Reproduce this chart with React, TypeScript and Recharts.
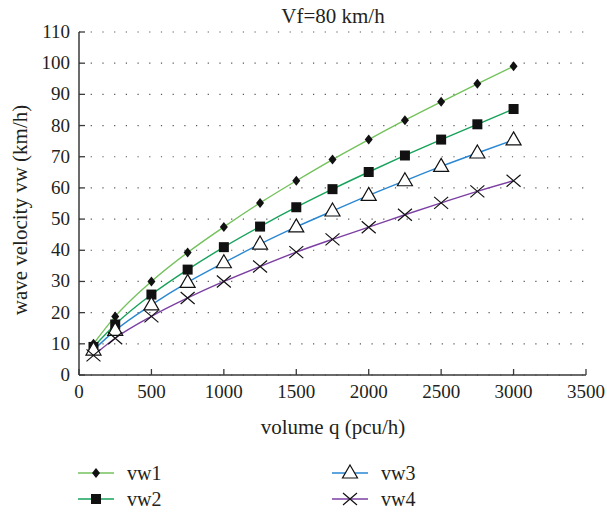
import { LineChart, Line, XAxis, YAxis, CartesianGrid } from 'recharts';

// volume q (pcu/h)
const volume = [100, 250, 500, 750, 1000, 1250, 1500, 1750, 2000, 2250, 2500, 2750, 3000];
// wave velocity vw (km/h)
const vw1 = [10, 18.8, 30, 39.3, 47.5, 55.2, 62.3, 69.1, 75.5, 81.7, 87.6, 93.4, 99];
const vw2 = [9, 16.2, 25.8, 33.8, 41, 47.6, 53.8, 59.6, 65.1, 70.4, 75.5, 80.4, 85.3];
const vw3 = [8, 14.3, 22.5, 29.7, 36, 42, 47.5, 52.6, 57.6, 62.3, 66.9, 71.2, 75.4];
const vw4 = [6.3, 11.8, 18.8, 24.7, 30, 34.8, 39.4, 43.5, 47.4, 51.4, 55.2, 58.9, 62.3];

const xTicks = [0, 500, 1000, 1500, 2000, 2500, 3000, 3500];
const yTicks = [0, 10, 20, 30, 40, 50, 60, 70, 80, 90, 100, 110];

const data = volume.map((q, i) => ({ q, vw1: vw1[i], vw2: vw2[i], vw3: vw3[i], vw4: vw4[i] }));

const FONT = '"Liberation Serif", serif';
const TEXT = '#231f20';
const AXIS = '#3a3a3a';
const M = 9;

const colors = { vw1: '#74c25c', vw2: '#17a25a', vw3: '#2a87d2', vw4: '#7c3fa3' };

const diamond = (cx: number, cy: number, r = 5) =>
  `M${cx},${cy - r}L${cx + r * 0.8},${cy}L${cx},${cy + r}L${cx - r * 0.8},${cy}Z`;

const Diamond = (p: any) => <path key={p.key ?? p.index} d={diamond(p.cx, p.cy)} fill="#111" />;
const Square = (p: any) => (
  <rect key={p.key ?? p.index} x={p.cx - 5} y={p.cy - 5} width={10} height={10} fill="#111" />
);
const Triangle = (p: any) => (
  <path
    key={p.key ?? p.index}
    d={`M${p.cx},${p.cy - 8}L${p.cx + 7.5},${p.cy + 5}L${p.cx - 7.5},${p.cy + 5}Z`}
    fill="#fff"
    stroke="#111"
    strokeWidth={1.2}
  />
);
const Cross = (p: any) => (
  <path
    key={p.key ?? p.index}
    d={`M${p.cx - 7},${p.cy - 6}L${p.cx + 7},${p.cy + 6}M${p.cx - 7},${p.cy + 6}L${p.cx + 7},${p.cy - 6}`}
    stroke="#111"
    strokeWidth={1.2}
    fill="none"
  />
);

const XTick = ({ x, y, payload }: any) => (
  <g>
    <line x1={x} x2={x} y1={y - M} y2={y - M - 6} stroke={AXIS} strokeWidth={1.3} />
    <text x={x} y={y + 14} textAnchor="middle" fontFamily={FONT} fontSize={19} fill={TEXT}>
      {payload.value}
    </text>
  </g>
);

const YTick = ({ x, y, payload }: any) => (
  <g>
    <line x1={x + M} x2={x + M + 6} y1={y} y2={y} stroke={AXIS} strokeWidth={1.3} />
    <text x={x} y={y + 6} textAnchor="end" fontFamily={FONT} fontSize={19} fill={TEXT}>
      {payload.value}
    </text>
  </g>
);

const legendItems = [
  { name: 'vw1', color: colors.vw1, Mark: Diamond, left: 78, top: 473 },
  { name: 'vw2', color: colors.vw2, Mark: Square, left: 78, top: 499 },
  { name: 'vw3', color: colors.vw3, Mark: Triangle, left: 332, top: 473 },
  { name: 'vw4', color: colors.vw4, Mark: Cross, left: 332, top: 499 },
];

export default function App() {
  return (
    <div style={{ position: 'absolute', left: 0, top: 0, width: 607, height: 512, background: '#fff', fontFamily: FONT, color: TEXT }}>
      <LineChart width={607} height={512} data={data} margin={{ top: 32, right: 21, left: 0, bottom: 107 }}>
        <CartesianGrid vertical={false} stroke="#555" strokeDasharray="1.2 10.5" strokeWidth={1.2} />
        <XAxis
          dataKey="q"
          type="number"
          domain={[0, 3500]}
          ticks={xTicks}
          height={30}
          tickSize={0}
          tickMargin={M}
          tick={<XTick />}
          stroke={AXIS}
          strokeWidth={1.5}
          interval={0}
        />
        <YAxis
          domain={[0, 110]}
          ticks={yTicks}
          width={79}
          tickSize={0}
          tickMargin={M}
          tick={<YTick />}
          stroke={AXIS}
          strokeWidth={1.5}
          interval={0}
        />
        <Line type="monotone" dataKey="vw1" stroke={colors.vw1} strokeWidth={1.4} dot={Diamond} isAnimationActive={false} />
        <Line type="monotone" dataKey="vw2" stroke={colors.vw2} strokeWidth={1.4} dot={Square} isAnimationActive={false} />
        <Line type="monotone" dataKey="vw3" stroke={colors.vw3} strokeWidth={1.4} dot={Triangle} isAnimationActive={false} />
        <Line type="monotone" dataKey="vw4" stroke={colors.vw4} strokeWidth={1.4} dot={Cross} isAnimationActive={false} />
      </LineChart>

      <div style={{ position: 'absolute', left: 233, width: 200, top: 4, textAlign: 'center', fontSize: 21 }}>Vf=80 km/h</div>
      <div style={{ position: 'absolute', left: 183, width: 300, top: 415, textAlign: 'center', fontSize: 21 }}>volume q (pcu/h)</div>
      <div
        style={{
          position: 'absolute',
          left: 20,
          top: 210,
          transform: 'translate(-50%, -50%) rotate(-90deg)',
          whiteSpace: 'nowrap',
          fontSize: 21,
        }}
      >
        wave velocity vw (km/h)
      </div>

      {legendItems.map(({ name, color, Mark, left, top }) => (
        <div key={name} style={{ position: 'absolute', left, top: top - 12, height: 24, display: 'flex', alignItems: 'center' }}>
          <svg width={36} height={24}>
            <line x1={0} x2={36} y1={12} y2={12} stroke={color} strokeWidth={1.6} />
            <Mark cx={18} cy={12} index={0} />
          </svg>
          <span style={{ marginLeft: 13, fontSize: 20 }}>{name}</span>
        </div>
      ))}
    </div>
  );
}
